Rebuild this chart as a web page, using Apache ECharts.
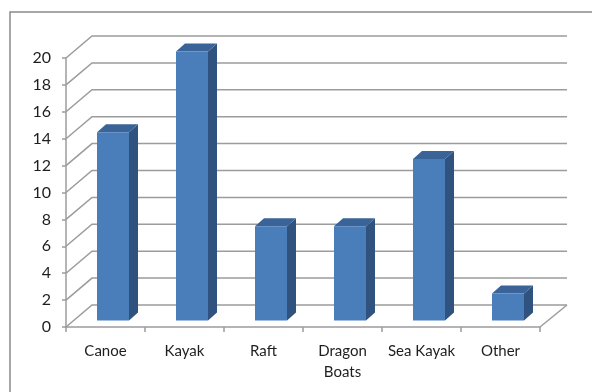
<!DOCTYPE html>
<html>
<head>
<meta charset="utf-8">
<script src="https://cdn.jsdelivr.net/npm/echarts@6/dist/echarts.min.js"></script>
<style>
html,body{margin:0;padding:0;background:#fff;}
#chart{width:592px;height:392px;}
</style>
</head>
<body>
<div id="chart"></div>
<script>
const categories = ['Canoe', 'Kayak', 'Raft', 'Dragon\nBoats', 'Sea Kayak', 'Other'];
const values = [14, 20, 7, 7, 12, 2];
const yTicks = [0, 2, 4, 6, 8, 10, 12, 14, 16, 18, 20];

const GRID_COLOR = '#9c9c9c';
const WALL_DX = 26, WALL_DY = -22;
const FONT = 'Lato';

const chart = echarts.init(document.getElementById('chart'), null, {renderer: 'canvas'});

function renderWall(params, api) {
  const cs = params.coordSys;
  const v = api.value(1);
  const y = api.coord([0, v])[1];
  const x0 = cs.x, x1 = cs.x + cs.width;
  const children = [{
    type: 'polyline',
    shape: {points: [[x0, y], [x0 + WALL_DX, y + WALL_DY], [x1 + WALL_DX + 1, y + WALL_DY]]},
    style: {stroke: GRID_COLOR, lineWidth: 1.5, fill: null}
  }];
  if (v === 0) {
    children.push({
      type: 'line',
      shape: {x1: x1, y1: y, x2: x1 + WALL_DX + 1, y2: y + WALL_DY},
      style: {stroke: GRID_COLOR, lineWidth: 1.5}
    });
  }
  return {type: 'group', children: children};
}

function renderBar(params, api) {
  const i = api.value(0), v = api.value(1);
  const base = api.coord([i, 0]);
  const top = api.coord([i, v]);
  const band = api.size([1, 0])[0];
  const faceW = band * 0.405;
  const shiftX = band * 0.095, shiftY = -6.5;
  const dx = 9, dy = -8;
  const xl = base[0] + shiftX - faceW / 2;
  const xr = xl + faceW;
  const yb = base[1] + shiftY;
  const yt = top[1] + shiftY;
  return {
    type: 'group',
    children: [
      {type: 'polygon', shape: {points: [[xr, yt], [xr + dx, yt + dy], [xr + dx, yb + dy], [xr, yb]]},
       style: {fill: '#30527f'}},
      {type: 'polygon', shape: {points: [[xl, yt], [xl + dx, yt + dy], [xr + dx, yt + dy], [xr, yt]]},
       style: {fill: '#3a6397'}},
      {type: 'rect', shape: {x: xl, y: yt, width: faceW, height: yb - yt},
       style: {fill: '#4a7ebb'}}
    ]
  };
}

chart.setOption({
  animation: false,
  backgroundColor: '#ffffff',
  graphic: [{
    type: 'rect', silent: true, z: -10,
    shape: {x: 10, y: 12, width: 620, height: 420},
    style: {fill: null, stroke: '#8a8a8a', lineWidth: 1.5}
  }],
  grid: {left: 66, right: 52, top: 58, bottom: 65, containLabel: false},
  xAxis: {
    type: 'category',
    data: categories,
    axisLine: {show: true, lineStyle: {color: GRID_COLOR, width: 1.5}},
    axisTick: {show: true, length: 5, lineStyle: {color: GRID_COLOR, width: 1.5}},
    axisLabel: {color: '#1e1e1e', fontFamily: FONT, fontSize: 15, margin: 14, lineHeight: 21, interval: 0},
    splitLine: {show: false}
  },
  yAxis: {
    type: 'value',
    min: 0, max: 20, interval: 2,
    axisLine: {show: true, lineStyle: {color: GRID_COLOR, width: 1.5}},
    axisTick: {show: true, length: 4, lineStyle: {color: GRID_COLOR, width: 1.5}},
    axisLabel: {color: '#1e1e1e', fontFamily: FONT, fontSize: 16, margin: 15},
    splitLine: {show: false}
  },
  series: [
    {
      type: 'custom', name: 'walls', z: 1, silent: true,
      renderItem: renderWall,
      data: yTicks.map(v => [0, v]),
      clip: false
    },
    {
      type: 'custom', name: 'bars', z: 5,
      renderItem: renderBar,
      data: values.map((v, i) => [i, v]),
      clip: false
    }
  ]
});
</script>
</body>
</html>
